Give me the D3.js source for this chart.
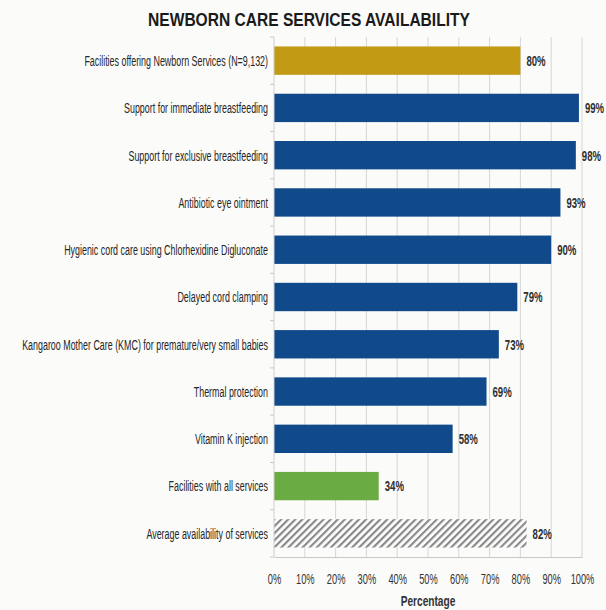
<!DOCTYPE html>
<html>
<head>
<meta charset="utf-8">
<script src="https://cdn.jsdelivr.net/npm/d3@7"></script>
<style>
  html, body { margin: 0; padding: 0; background: #fbfbf9; }
  svg { display: block; }
  text { font-family: "Liberation Sans", Arial, sans-serif; }
</style>
</head>
<body>
<svg id="chart" width="606" height="610"></svg>
<script>
// Service categories, top to bottom
const categories = [
  "Facilities offering Newborn Services (N=9,132)",
  "Support for immediate breastfeeding",
  "Support for exclusive breastfeeding",
  "Antibiotic eye ointment",
  "Hygienic cord care using Chlorhexidine Digluconate",
  "Delayed cord clamping",
  "Kangaroo Mother Care (KMC) for premature/very small babies",
  "Thermal protection",
  "Vitamin K injection",
  "Facilities with all services",
  "Average availability of services"
];
// Percentage of facilities
const values = [80, 99, 98, 93, 90, 79, 73, 69, 58, 34, 82];
// Bar kind: total, service, all, average
const kinds = ["total", "service", "service", "service", "service", "service",
               "service", "service", "service", "all", "average"];
const xTicks = [0, 10, 20, 30, 40, 50, 60, 70, 80, 90, 100];

const title = "NEWBORN CARE SERVICES AVAILABILITY";
const xTitle = "Percentage";

const colors = { total: "#c39a14", service: "#114a8b", all: "#6aab43", average: "url(#hatch)" };

const svg = d3.select("#chart");
const top0 = 37, axisY = 557;

const x = d3.scaleLinear().domain([0, 100]).range([274, 582]);
const y = d3.scaleBand().domain(categories).range([top0, axisY]).paddingInner(0.4).paddingOuter(0.2);

// Squeeze a text horizontally around its anchor point
function squeeze(sel, k, px) {
  sel.attr("transform", function(d, i) {
    const ax = typeof px === "function" ? px(d, i) : px;
    return `translate(${ax},0) scale(${k},1) translate(${-ax},0)`;
  });
}

// Diagonal hatch for the average bar
const defs = svg.append("defs");
const pat = defs.append("pattern")
  .attr("id", "hatch")
  .attr("patternUnits", "userSpaceOnUse")
  .attr("width", 5).attr("height", 5)
  .attr("patternTransform", "rotate(45)");
pat.append("rect").attr("width", 5).attr("height", 5).attr("fill", "#ffffff");
pat.append("rect").attr("width", 2.2).attr("height", 5).attr("fill", "#8a8a8a");

// Title
const t = svg.append("text")
  .attr("x", 309).attr("y", 26)
  .attr("text-anchor", "middle")
  .style("font-weight", "bold")
  .style("font-size", "18px")
  .attr("fill", "#1a1a1a")
  .text(title);
squeeze(t, 0.865, 309);

// Vertical gridlines
svg.append("g")
  .selectAll("line")
  .data(xTicks.slice(1))
  .join("line")
  .attr("x1", d => x(d)).attr("x2", d => x(d))
  .attr("y1", top0).attr("y2", axisY)
  .attr("stroke", "#d6d6d6")
  .attr("stroke-width", 1);

// Bars
svg.append("g")
  .selectAll("rect")
  .data(categories)
  .join("rect")
  .attr("x", x(0))
  .attr("y", d => y(d))
  .attr("width", (d, i) => x(values[i]) - x(0))
  .attr("height", y.bandwidth())
  .attr("fill", (d, i) => colors[kinds[i]]);

// Value labels
const vl = svg.append("g")
  .selectAll("text")
  .data(categories)
  .join("text")
  .attr("x", (d, i) => x(values[i]) + 6)
  .attr("y", d => y(d) + y.bandwidth() / 2)
  .attr("dy", "0.36em")
  .style("font-size", "15px")
  .style("font-weight", "bold")
  .attr("fill", "#2e2e2e")
  .text((d, i) => values[i] + "%");
squeeze(vl, 0.64, (d, i) => x(values[i]) + 6);

// Category axis with ticks between bands
const yAxisG = svg.append("g");
yAxisG.append("line")
  .attr("x1", x(0)).attr("x2", x(0))
  .attr("y1", top0).attr("y2", axisY)
  .attr("stroke", "#cfcfcf");
const bounds = d3.range(categories.length + 1).map(i => top0 + i * (axisY - top0) / categories.length);
yAxisG.selectAll("line.tk")
  .data(bounds)
  .join("line")
  .attr("class", "tk")
  .attr("x1", x(0) - 4).attr("x2", x(0))
  .attr("y1", d => d).attr("y2", d => d)
  .attr("stroke", "#c8c8c8");

// Category labels, condensed so the longest one fits the left margin
const labX = x(0) - 6;
const labs = svg.append("g")
  .selectAll("text")
  .data(categories)
  .join("text")
  .attr("x", labX)
  .attr("y", d => y(d) + y.bandwidth() / 2)
  .attr("dy", "0.36em")
  .attr("text-anchor", "end")
  .style("font-size", "15px")
  .attr("fill", "#262626")
  .text(d => d);
const longest = d3.max(labs.nodes(), n => n.getComputedTextLength());
squeeze(labs, (labX - 22) / longest, labX);

// Percentage axis
const xAxis = d3.axisBottom(x).tickValues(xTicks).tickFormat(d => d + "%").tickSize(0).tickPadding(17);
const xg = svg.append("g").attr("transform", `translate(0,${axisY})`).call(xAxis);
xg.select(".domain").attr("stroke", "#c8c8c8");
xg.selectAll("text")
  .style("font-family", "'Liberation Sans', Arial, sans-serif")
  .style("font-size", "14.5px")
  .attr("fill", "#333")
  .attr("transform", "scale(0.64,1)");

const xt = svg.append("text")
  .attr("x", x(50)).attr("y", 606)
  .attr("text-anchor", "middle")
  .style("font-size", "14.5px")
  .style("font-weight", "bold")
  .attr("fill", "#333")
  .text(xTitle);
squeeze(xt, 0.7, x(50));
</script>
</body>
</html>
